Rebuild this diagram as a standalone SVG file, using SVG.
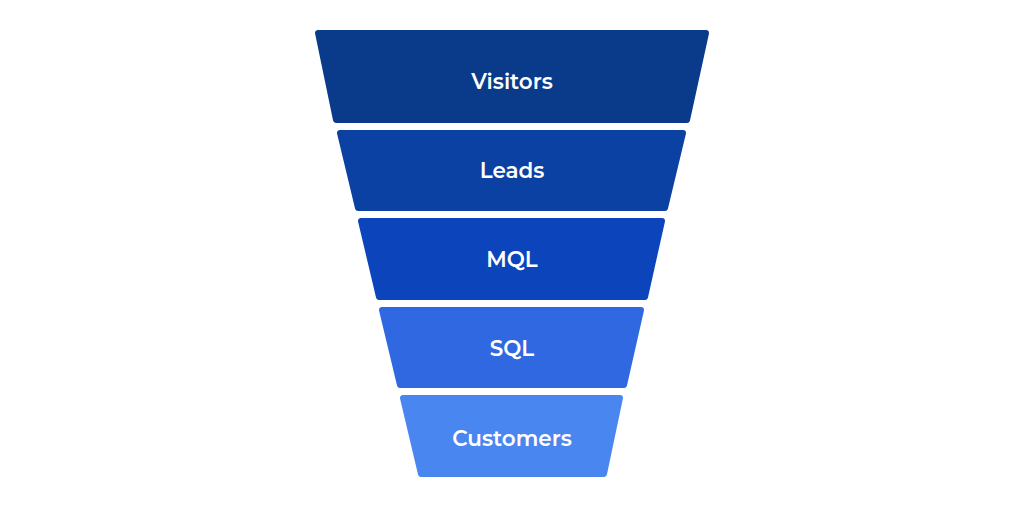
<svg xmlns="http://www.w3.org/2000/svg" width="1024" height="512" viewBox="0 0 1024 512">
<style>
.band{stroke-width:6;stroke-linejoin:round}
.lbl{font-family:"Montserrat","Lato","Open Sans",sans-serif;font-weight:600;font-size:21.5px;fill:#ffffff;text-anchor:middle;dominant-baseline:central}
</style>
<rect width="1024" height="512" fill="#ffffff"/>
<g id="visitors">
<path class="band" d="M318 33 L706 33 L687 120 L336 120 Z" fill="#0a3a8a" stroke="#0a3a8a"/>
<text class="lbl" x="512" y="81">Visitors</text>
</g>
<g id="leads">
<path class="band" d="M340 133 L683 133 L665 208 L358 208 Z" fill="#0b41a3" stroke="#0b41a3"/>
<text class="lbl" x="512" y="170">Leads</text>
</g>
<g id="mql">
<path class="band" d="M361 221 L662 221 L645 297 L379 297 Z" fill="#0c45bb" stroke="#0c45bb"/>
<text class="lbl" x="512" y="259">MQL</text>
</g>
<g id="sql">
<path class="band" d="M382 310 L641 310 L624 385 L400 385 Z" fill="#2f68e0" stroke="#2f68e0"/>
<text class="lbl" x="512" y="348">SQL</text>
</g>
<g id="customers">
<path class="band" d="M403 398 L620 398 L604 474 L421 474 Z" fill="#4a86f0" stroke="#4a86f0"/>
<text class="lbl" x="512" y="438">Customers</text>
</g>
<g id="connectors"></g>
</svg>
